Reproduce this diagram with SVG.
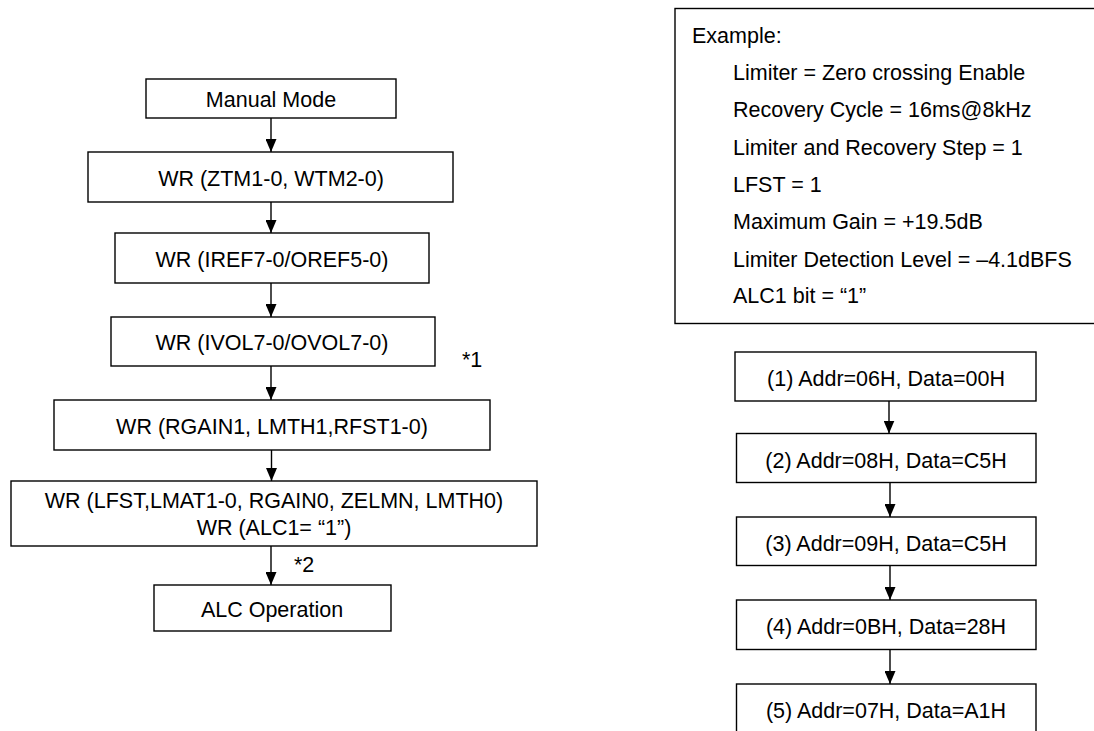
<svg xmlns="http://www.w3.org/2000/svg" width="1094" height="731" viewBox="0 0 1094 731">
<style>
.box{fill:#fff;stroke:#000;stroke-width:1.4}
.t{font-family:"Liberation Sans",Arial,sans-serif;font-size:21.5px;fill:#000}
.c{text-anchor:middle}
.conn{stroke:#000;stroke-width:1.4;fill:none}
</style>
<defs>
<marker id="arr" markerUnits="userSpaceOnUse" markerWidth="13" markerHeight="11" refX="13" refY="5.5" orient="auto">
<path d="M0,0 L13,5.5 L0,11 z" fill="#000"/>
</marker>
</defs>
<rect width="1094" height="731" fill="#fff"/>

<g id="n-manual"><rect class="box" x="146" y="79" width="250" height="39"/><text class="t c" x="271" y="107">Manual Mode</text></g>
<g id="n-ztm"><rect class="box" x="88" y="152" width="365" height="50"/><text class="t c" x="271" y="186">WR (ZTM1-0, WTM2-0)</text></g>
<g id="n-iref"><rect class="box" x="115" y="233" width="314" height="50"/><text class="t c" x="272" y="267">WR (IREF7-0/OREF5-0)</text></g>
<g id="n-ivol"><rect class="box" x="111" y="317" width="324" height="49"/><text class="t c" x="272" y="350">WR (IVOL7-0/OVOL7-0)</text></g>
<g id="n-rgain"><rect class="box" x="54" y="400" width="436" height="50"/><text class="t c" x="272" y="434">WR (RGAIN1, LMTH1,RFST1-0)</text></g>
<g id="n-lfst"><rect class="box" x="11" y="481" width="526" height="65"/><text class="t c" x="274" y="508">WR (LFST,LMAT1-0, RGAIN0, ZELMN, LMTH0)</text><text class="t c" x="274" y="535">WR (ALC1= “1”)</text></g>
<g id="n-alc"><rect class="box" x="154" y="585" width="237" height="46"/><text class="t c" x="272" y="617">ALC Operation</text></g>
<g id="note1"><text class="t" x="462" y="367">*1</text></g>
<g id="note2"><text class="t" x="294" y="572">*2</text></g>

<g id="n-example"><rect class="box" x="675" y="8.5" width="430" height="315"/>
<text class="t" x="692" y="43">Example:</text>
<text class="t" x="733" y="80">Limiter = Zero crossing Enable</text>
<text class="t" x="733" y="117">Recovery Cycle = 16ms@8kHz</text>
<text class="t" x="733" y="155">Limiter and Recovery Step = 1</text>
<text class="t" x="733" y="192">LFST = 1</text>
<text class="t" x="733" y="229">Maximum Gain = +19.5dB</text>
<text class="t" x="733" y="267">Limiter Detection Level = –4.1dBFS</text>
<text class="t" x="733" y="303">ALC1 bit = “1”</text>
</g>
<g id="n-s1"><rect class="box" x="735" y="352" width="301" height="49"/><text class="t c" x="886" y="386">(1) Addr=06H, Data=00H</text></g>
<g id="n-s2"><rect class="box" x="736.5" y="433.5" width="299.5" height="49"/><text class="t c" x="886" y="468">(2) Addr=08H, Data=C5H</text></g>
<g id="n-s3"><rect class="box" x="736.5" y="517" width="299.5" height="48.5"/><text class="t c" x="886" y="551">(3) Addr=09H, Data=C5H</text></g>
<g id="n-s4"><rect class="box" x="736.5" y="600" width="299.5" height="49.5"/><text class="t c" x="886" y="634">(4) Addr=0BH, Data=28H</text></g>
<g id="n-s5"><rect class="box" x="736.5" y="684" width="299.5" height="60"/><text class="t c" x="886" y="718">(5) Addr=07H, Data=A1H</text></g>

<g id="connectors">
<line class="conn" x1="271" y1="118" x2="271" y2="152" marker-end="url(#arr)"/>
<line class="conn" x1="271" y1="202" x2="271" y2="233" marker-end="url(#arr)"/>
<line class="conn" x1="271" y1="283" x2="271" y2="317" marker-end="url(#arr)"/>
<line class="conn" x1="271" y1="366" x2="271" y2="400" marker-end="url(#arr)"/>
<line class="conn" x1="271.5" y1="450" x2="271.5" y2="481" marker-end="url(#arr)"/>
<line class="conn" x1="271" y1="546" x2="271" y2="585" marker-end="url(#arr)"/>
<line class="conn" x1="889" y1="401" x2="889" y2="433.5" marker-end="url(#arr)"/>
<line class="conn" x1="890" y1="482.5" x2="890" y2="517" marker-end="url(#arr)"/>
<line class="conn" x1="890" y1="565.5" x2="890" y2="600" marker-end="url(#arr)"/>
<line class="conn" x1="890" y1="649.5" x2="890" y2="684" marker-end="url(#arr)"/>
</g>
</svg>
